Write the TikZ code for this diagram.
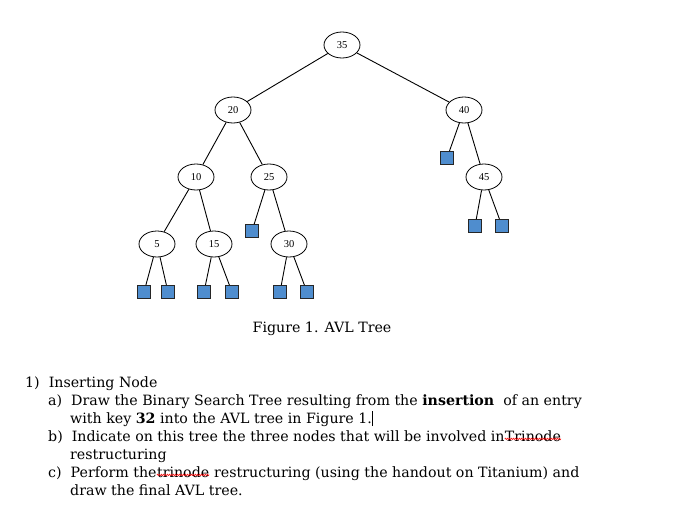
\documentclass[tikz,border=0pt]{standalone}
\usepackage{fontspec}
\setmainfont{DejaVu Serif}
\newfontfamily\tnr{Liberation Serif}
\usetikzlibrary{shapes.geometric,decorations.pathmorphing}
\definecolor{leafblue}{RGB}{79,141,206}
\begin{document}
\begin{tikzpicture}[x=1pt,y=-1pt,
  key/.style={ellipse,draw,line width=0.8pt,minimum width=36pt,minimum height=26pt,inner sep=0pt,font=\tnr\fontsize{10.5}{10.5}\selectfont},
  leaf/.style={draw=black!85,line width=0.8pt,fill=leafblue,minimum size=13pt,inner sep=0pt},
  edge/.style={draw,line width=0.9pt},
  txt/.style={anchor=base west,inner sep=0pt,font=\fontsize{14.2}{15}\selectfont},
  squig/.style={red,line width=0.45pt,decorate,decoration={zigzag,amplitude=0.8pt,segment length=2pt}}]
\useasboundingbox (0,0) rectangle (685,512);
\node[key] (n35) at (342,45) {35};
\node[key] (n20) at (233,110) {20};
\node[key] (n40) at (464,110) {40};
\node[key] (n10) at (196,177) {10};
\node[key] (n25) at (269,177) {25};
\node[key] (n45) at (484,177) {45};
\node[key] (n5) at (157,244) {5};
\node[key] (n15) at (214,244) {15};
\node[key] (n30) at (289,244) {30};
\node[leaf] (l40) at (447,158) {};
\node[leaf] (l25) at (252,231) {};
\node[leaf] (l45a) at (475,226) {};
\node[leaf] (l45b) at (502,226) {};
\node[leaf] (l5a) at (144,292) {};
\node[leaf] (l5b) at (168,292) {};
\node[leaf] (l15a) at (204,292) {};
\node[leaf] (l15b) at (232,292) {};
\node[leaf] (l30a) at (280,292) {};
\node[leaf] (l30b) at (307,292) {};
\foreach \a/\b in {n35/n20,n35/n40,n20/n10,n20/n25,n40/l40,n40/n45,n10/n5,n10/n15,n25/l25,n25/n30,n45/l45a,n45/l45b,n5/l5a,n5/l5b,n15/l15a,n15/l15b,n30/l30a,n30/l30b}
  \path[edge] (\a) -- (\b);
\node[txt,anchor=base] (cap) at (322,332) {Figure 1. AVL Tree};
\node[txt] (t1) at (25,387) {1)\ \ Inserting Node};
\node[txt] (t2) at (48,405) {a)\ \ Draw the Binary Search Tree resulting from the \textbf{insertion} \ of an entry};
\node[txt] (t3) at (70,423) {with key \textbf{32} into the AVL tree in Figure 1.\rule[-3pt]{1.2pt}{15pt}};
\node[txt] (t4) at (48,441) {b)\ \ Indicate on this tree the three nodes that will be involved in\ };
\node[txt] (w1) at (t4.base east) {Trinode};
\node[txt] (t5) at (70,459) {restructuring};
\node[txt] (t6) at (48,477) {c)\ \ Perform the\ };
\node[txt] (w2) at (t6.base east) {trinode};
\node[txt] (t6b) at (w2.base east) {\ restructuring (using the handout on Titanium) and};
\node[txt] (t7) at (70,495) {draw the final AVL tree.};
\draw[squig] ([yshift=2.5pt]w1.south west) -- ([yshift=2.5pt]w1.south east);
\draw[squig] ([yshift=2.5pt]w2.south west) -- ([yshift=2.5pt]w2.south east);
\end{tikzpicture}
\end{document}
